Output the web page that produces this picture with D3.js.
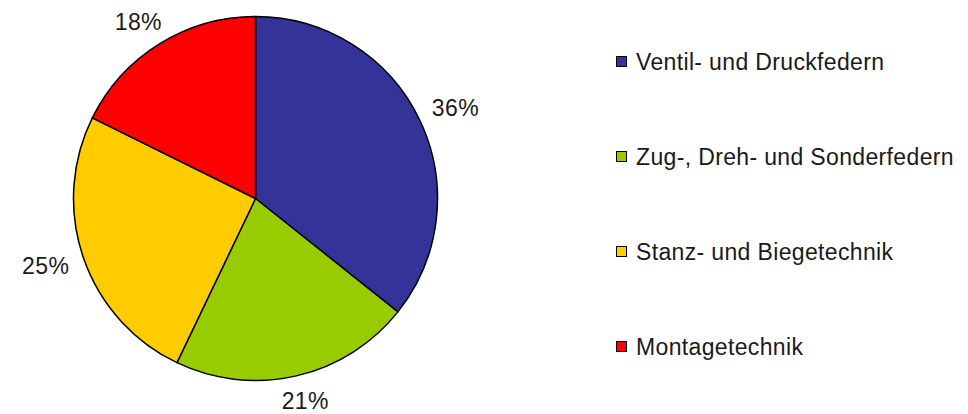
<!DOCTYPE html>
<html>
<head>
<meta charset="utf-8">
<script src="https://cdn.jsdelivr.net/npm/d3@7"></script>
<style>
  body { margin: 0; background: #fff; }
  text { font-family: "Liberation Sans", Arial, sans-serif; fill: #1a1a1a; }
</style>
</head>
<body>
<svg id="chart"></svg>
<script>
// slice shares in percent, clockwise from 12 o'clock
const categories = ["Ventil- und Druckfedern", "Zug-, Dreh- und Sonderfedern", "Stanz- und Biegetechnik", "Montagetechnik"];
const values = [35.7, 21.4, 25.2, 17.7];
const colors = ["#333399", "#99cc00", "#ffcc00", "#ff0000"];

const width = 968, height = 414;
const cx = 255.5, cy = 198.5, radius = 182;

const svg = d3.select("#chart")
    .attr("width", width)
    .attr("height", height);

const data = categories.map((c, i) => ({ name: c, value: values[i], color: colors[i] }));
const total = d3.sum(values);

const pie = d3.pie()
    .value(d => d.value)
    .sort(null);

const arc = d3.arc()
    .innerRadius(0)
    .outerRadius(radius);

const g = svg.append("g")
    .attr("transform", `translate(${cx},${cy})`);

const arcs = pie(data);

g.selectAll("path")
    .data(arcs)
    .join("path")
    .attr("d", arc)
    .attr("fill", d => d.data.color)
    .attr("stroke", "#000")
    .attr("stroke-width", 1.5)
    .attr("stroke-linejoin", "round");

// labels just outside the rim; the box is pushed outward along the mid angle
const labelGap = 16, boxW = 48, boxH = 20;
g.selectAll("text.pct")
    .data(arcs)
    .join("text")
    .attr("class", "pct")
    .attr("text-anchor", "middle")
    .attr("dominant-baseline", "central")
    .style("font-size", "23px")
    .style("letter-spacing", "0.4px")
    .attr("x", d => {
        const a = (d.startAngle + d.endAngle) / 2;
        return Math.sin(a) * (radius + labelGap) + Math.sin(a) * boxW / 2;
    })
    .attr("y", d => {
        const a = (d.startAngle + d.endAngle) / 2;
        return -Math.cos(a) * (radius + labelGap) - Math.cos(a) * boxH / 2;
    })
    .text(d => Math.round(d.data.value / total * 100) + "%");

// legend
const legendY = d3.scalePoint()
    .domain(categories)
    .range([61.5, 346.5]);

const legend = svg.append("g");

const items = legend.selectAll("g")
    .data(data)
    .join("g")
    .attr("transform", d => `translate(616,${legendY(d.name)})`);

items.append("rect")
    .attr("x", 0.5)
    .attr("y", -5)
    .attr("width", 10)
    .attr("height", 10)
    .attr("fill", d => d.color)
    .attr("stroke", "#000")
    .attr("stroke-width", 1);

items.append("text")
    .attr("x", 20)
    .attr("dominant-baseline", "central")
    .style("font-size", "23px")
    .style("letter-spacing", "0.35px")
    .text(d => d.name);
</script>
</body>
</html>
